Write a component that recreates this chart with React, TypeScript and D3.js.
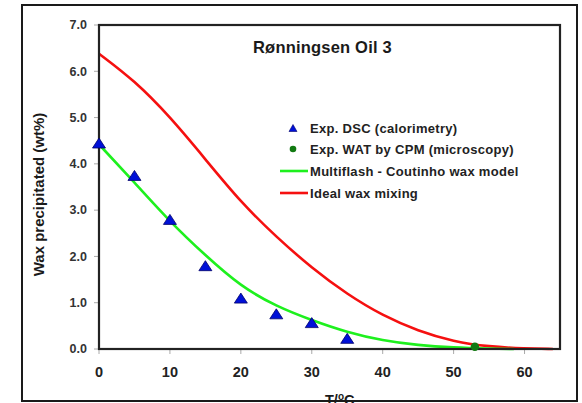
import React from "react";
import * as d3 from "d3";

const W = 582;
const H = 403;

const title = "Rønningsen Oil 3";
const xTicks = [0, 10, 20, 30, 40, 50, 60];
const yTicks = [0, 1, 2, 3, 4, 5, 6, 7];

// Exp. DSC (calorimetry)
const dscT = [0, 5, 10, 15, 20, 25, 30, 35];
const dscW = [4.45, 3.75, 2.8, 1.8, 1.1, 0.76, 0.57, 0.23];

// Exp. WAT by CPM (microscopy)
const watT = [53];
const watW = [0.05];

// Multiflash - Coutinho wax model
const mfT = [0, 5, 10, 15, 20, 25, 30, 35, 40, 45, 50, 55, 58.5];
const mfW = [4.42, 3.6, 2.75, 2.02, 1.35, 0.92, 0.62, 0.36, 0.18, 0.08, 0.03, 0.008, 0];

// Ideal wax mixing
const idT = [0, 5, 10, 15, 20, 25, 30, 35, 40, 45, 50, 55, 60, 64];
const idW = [6.38, 5.8, 5.02, 4.1, 3.17, 2.42, 1.75, 1.18, 0.72, 0.39, 0.16, 0.05, 0.01, 0];

const legendLabels = [
  "Exp. DSC (calorimetry)",
  "Exp. WAT by CPM (microscopy)",
  "Multiflash - Coutinho wax model",
  "Ideal wax mixing",
];

const FONT = "'Liberation Sans', Arial, sans-serif";
const GREEN = "#1ef01e";
const RED = "#f51010";
const BLUE = "#0010d8";
const DGREEN = "#127a12";

export default function App() {
  const x = d3.scaleLinear().domain([0, 65]).range([99, 560]);
  const y = d3.scaleLinear().domain([0, 7]).range([349, 25]);

  const line = d3
    .line<[number, number]>()
    .x((d) => x(d[0]))
    .y((d) => y(d[1]))
    .curve(d3.curveBasis);

  const mfPts = mfT.map((t, i) => [t, mfW[i]] as [number, number]);
  const idPts = idT.map((t, i) => [t, idW[i]] as [number, number]);

  const tri = (cx: number, cy: number, w: number, h: number) =>
    `M${cx},${cy - h / 2}L${cx + w / 2},${cy + h / 2}L${cx - w / 2},${cy + h / 2}Z`;

  const legX = 293;
  const legTextX = 310;
  const legY = [128, 149, 171, 193];

  return (
    <div style={{ position: "absolute", left: 0, top: 0 }}>
      <svg width={W} height={H} style={{ display: "block", background: "#fff" }}>
        <rect x={0} y={0} width={W} height={H} fill="#fff" />

        {/* y ticks */}
        {yTicks.map((t) => (
          <g key={"y" + t}>
            <line x1={94} x2={99} y1={y(t)} y2={y(t)} stroke="#aaa" strokeWidth={1} />
            <text
              x={87}
              y={y(t) + 4.3}
              textAnchor="end"
              fontFamily={FONT}
              fontWeight="bold"
              fontSize={12.5}
              fill="#333"
            >
              {t.toFixed(1)}
            </text>
          </g>
        ))}

        {/* x ticks */}
        {xTicks.map((t) => (
          <g key={"x" + t}>
            <line x1={x(t)} x2={x(t)} y1={349} y2={354} stroke="#aaa" strokeWidth={1} />
            <text
              x={x(t)}
              y={377}
              textAnchor="middle"
              fontFamily={FONT}
              fontWeight="bold"
              fontSize={14.5}
              fill="#222"
            >
              {t}
            </text>
          </g>
        ))}

        {/* curves */}
        <path d={line(idPts) || ""} fill="none" stroke={RED} strokeWidth={2.6} />
        <path d={line(mfPts) || ""} fill="none" stroke={GREEN} strokeWidth={2.6} />

        {/* plot frame */}
        <rect x={99} y={25} width={461} height={324} fill="none" stroke="#222" strokeWidth={2.2} />

        {/* data markers */}
        {dscT.map((t, i) => (
          <path
            key={"d" + i}
            d={tri(x(t), y(dscW[i]), 13, 10)}
            fill={BLUE}
            stroke="#00006a"
            strokeWidth={0.8}
          />
        ))}
        {watT.map((t, i) => (
          <circle key={"w" + i} cx={x(t)} cy={y(watW[i])} r={4.2} fill={DGREEN} />
        ))}

        {/* title */}
        <text
          x={253}
          y={53}
          fontFamily={FONT}
          fontWeight="bold"
          fontSize={16.5}
          letterSpacing={0.2}
          fill="#1a1a1a"
        >
          {title}
        </text>

        {/* legend */}
        <path d={tri(legX, legY[0], 8, 7)} fill={BLUE} stroke="#00006a" strokeWidth={0.6} />
        <circle cx={legX} cy={legY[1]} r={3.3} fill={DGREEN} />
        <line x1={280} x2={308} y1={legY[2]} y2={legY[2]} stroke={GREEN} strokeWidth={2.6} />
        <line x1={280} x2={308} y1={legY[3]} y2={legY[3]} stroke={RED} strokeWidth={2.6} />
        {legendLabels.map((l, i) => (
          <text
            key={"l" + i}
            x={legTextX}
            y={legY[i] + 4.5}
            fontFamily={FONT}
            fontWeight="bold"
            fontSize={13}
            letterSpacing={0.3}
            fill="#222"
          >
            {l}
          </text>
        ))}

        {/* axis titles */}
        <text
          transform={`translate(44,194.5) rotate(-90)`}
          textAnchor="middle"
          fontFamily={FONT}
          fontWeight="bold"
          fontSize={15}
          fill="#1a1a1a"
        >
          Wax precipitated (wt%)
        </text>
        <text x={325} y={405} fontFamily={FONT} fontWeight="bold" fontSize={14.5} fill="#1a1a1a">
          T/
          <tspan dy={-5} fontSize={10}>o</tspan>
          <tspan dy={5}>C</tspan>
        </text>

        {/* outer frame */}
        <rect x={22} y={5} width={555} height={396} fill="none" stroke="#1a1a1a" strokeWidth={2} />
      </svg>
    </div>
  );
}
